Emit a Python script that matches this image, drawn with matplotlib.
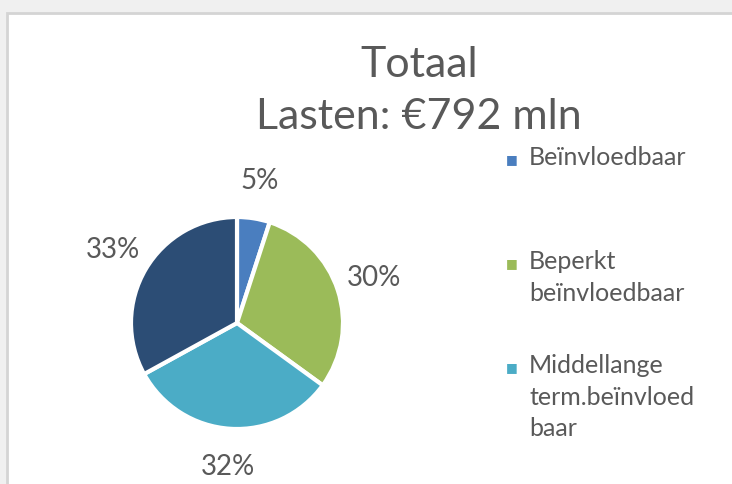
import matplotlib.pyplot as plt
from matplotlib.patches import Rectangle

# data
categories = ["Beïnvloedbaar", "Beperkt\nbeïnvloedbaar",
              "Middellange\nterm.beïnvloed\nbaar", "Niet beïnvloedbaar"]
shares = [5, 30, 32, 33]
colors = ["#4a7ebf", "#9bbb59", "#4bacc6", "#2c4d75"]

W, H = 732, 484
fig = plt.figure(figsize=(W / 100, H / 100), dpi=100, facecolor="#f0f0f0")
plt.rcParams['font.family'] = ['Lato', 'DejaVu Sans']

# chart frame (white area with light border, as in the screenshot)
fig.patches.append(Rectangle((7 / W, -0.1), 1.1, 1 - 13 / H + 0.1,
                             transform=fig.transFigure, facecolor="white",
                             edgecolor="#d4d4d4", linewidth=2, zorder=-5))

txt = "#595959"
fig.text(419 / W, 1 - 91 / H, "Totaal\nLasten: €792 mln", ha="center", va="center",
         fontsize=31, color=txt, linespacing=1.42)

# pie, centred at (237, 323) px with radius 106 px
r = 106
ax = fig.add_axes([(237 - r) / W, (H - 323 - r) / H, 2 * r / W, 2 * r / H])
wedges, _, autotexts = ax.pie(shares, colors=colors, startangle=90, counterclock=False,
                              autopct="%d%%", pctdistance=1.36,
                              wedgeprops=dict(edgecolor="white", linewidth=3),
                              textprops=dict(fontsize=20, color=txt))
ax.set_xlim(-1, 1)
ax.set_ylim(-1, 1)

# legend (Excel-style: one slot per entry, marker at the first line);
# the last entry falls below the visible area in the original
slot_top = [160, 264, 368]
for cat, col, y in zip(categories, colors, slot_top):
    fig.text(512 / W, 1 - y / H, "■", color=col, fontsize=9, ha="center", va="center",
             family=['DejaVu Sans'])
    fig.text(529 / W, 1 - (y - 14) / H, cat, color=txt, fontsize=18, ha="left", va="top",
             linespacing=1.45)

fig.savefig("out.png", dpi=100, facecolor=fig.get_facecolor())
